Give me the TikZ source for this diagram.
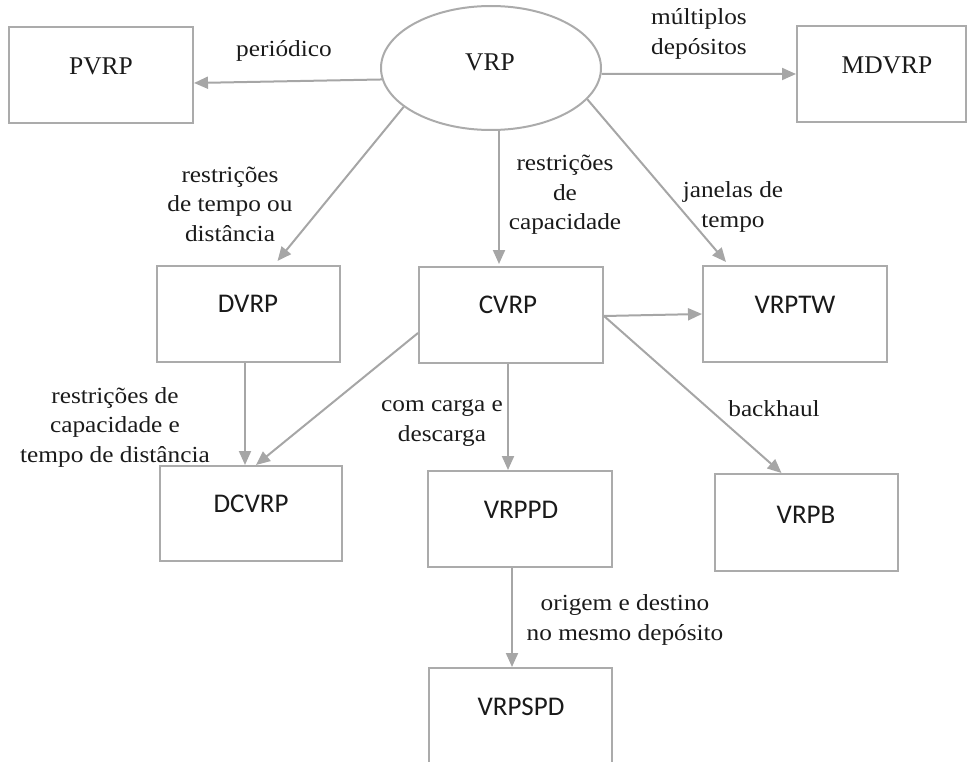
\documentclass[tikz,border=0pt]{standalone}
\usepackage{fontspec}
\setmainfont{Liberation Serif}
\newfontfamily\lblfont{Liberation Serif}[FakeStretch=1.1]
\newfontfamily\boxsans{Carlito}
\usetikzlibrary{arrows.meta,shapes.geometric}
\definecolor{framegray}{HTML}{ABABAB}
\definecolor{linkgray}{HTML}{A6A6A6}
\definecolor{ink}{HTML}{1A1A1A}
\tikzset{
  probbox/.style={draw=framegray, line width=2pt, inner sep=0pt,
    minimum width=184pt, minimum height=96pt},
  rootell/.style={ellipse, draw=framegray, line width=2pt, inner sep=0pt,
    minimum width=220pt, minimum height=124pt},
  seriftag/.style={text=ink, inner sep=0pt, font=\fontsize{25.5}{30}\selectfont},
  sanstag/.style={text=ink, inner sep=0pt, font=\boxsans\fontsize{27}{32}\selectfont},
  edgetag/.style={text=ink, inner sep=0pt, align=center,
    font=\lblfont\fontsize{23}{29.5}\selectfont},
  link/.style={draw=linkgray, line width=2pt,
    -{Triangle[length=14pt,width=12pt]}}
}
\begin{document}
\begin{tikzpicture}[x=1pt,y=-1pt]
\useasboundingbox (0,0) rectangle (968,762);

% problem boxes and the root ellipse
\node[rootell] (vrp) at (491,68) {};
\node[probbox, minimum width=184pt] (pvrp) at (101,75) {};
\node[probbox, minimum width=169pt] (mdvrp) at (881.5,74) {};
\node[probbox, minimum width=183pt] (dvrp) at (248.5,314) {};
\node[probbox] (cvrp) at (511,315) {};
\node[probbox] (vrptw) at (795,314) {};
\node[probbox, minimum width=182pt, minimum height=95pt] (dcvrp) at (251,513.5) {};
\node[probbox] (vrppd) at (520,519) {};
\node[probbox, minimum width=183pt, minimum height=97pt] (vrpb) at (806.5,522.5) {};
\node[probbox, minimum width=183pt, minimum height=102pt] (vrpspd) at (520.5,719) {};

% names inside the shapes
\node[seriftag] (tvrp) at (490,62) {VRP};
\node[seriftag] (tpvrp) at (101,66) {PVRP};
\node[seriftag] (tmdvrp) at (887,65) {MDVRP};
\node[sanstag] (tdvrp) at (248,304) {DVRP};
\node[sanstag] (tcvrp) at (508,305) {CVRP};
\node[sanstag] (tvrptw) at (795,305) {VRPTW};
\node[sanstag] (tdcvrp) at (251,504) {DCVRP};
\node[sanstag] (tvrppd) at (521,510) {VRPPD};
\node[sanstag] (tvrpb) at (806,515) {VRPB};
\node[sanstag] (tvrpspd) at (521,707) {VRPSPD};

% connectors
\draw[link] (vrp.186) -- ([yshift=-8pt]pvrp.east);
\draw[link] (vrp.-3) -- (mdvrp.west);
\draw[link] (vrp.204) -- ([xshift=29pt,yshift=4pt]dvrp.north);
\draw[link] ([xshift=8pt]vrp.south) -- ([xshift=-12pt,yshift=2pt]cvrp.north);
\draw[link] (vrp.-18) -- ([xshift=-69pt,yshift=3pt]vrptw.north);
\draw[link] ([yshift=-1pt]cvrp.east) -- (vrptw.west);
\draw[link] ([yshift=-1pt]cvrp.east) -- ([xshift=-25pt]vrpb.north);
\draw[link] ([yshift=-18pt]cvrp.west) -- ([xshift=5pt]dcvrp.north);
\draw[link] ([xshift=-3.5pt]dvrp.south) -- ([xshift=-6pt]dcvrp.north);
\draw[link] ([xshift=-3pt]cvrp.south) -- ([xshift=-12pt]vrppd.north);
\draw[link] ([xshift=-8pt]vrppd.south) -- ([xshift=-8.5pt]vrpspd.north);

% connector labels
\node[edgetag] (lper) at (284,51) {periódico};
\node[edgetag] (lmd) at (699,34) {múltiplos\\depósitos};
\node[edgetag] (ltd) at (230,204) {restrições\\de tempo ou\\distância};
\node[edgetag] (lcap) at (565,195) {restrições\\de\\capacidade};
\node[edgetag] (ljan) at (733,207) {janelas de\\tempo};
\node[edgetag] (lctd) at (115,427) {restrições de\\capacidade e\\tempo de distância};
\node[edgetag] (lccd) at (442,423) {com carga e\\descarga};
\node[edgetag] (lback) at (774,409) {backhaul};
\node[edgetag] (lorig) at (625,620) {origem e destino\\no mesmo depósito};
\end{tikzpicture}
\end{document}
